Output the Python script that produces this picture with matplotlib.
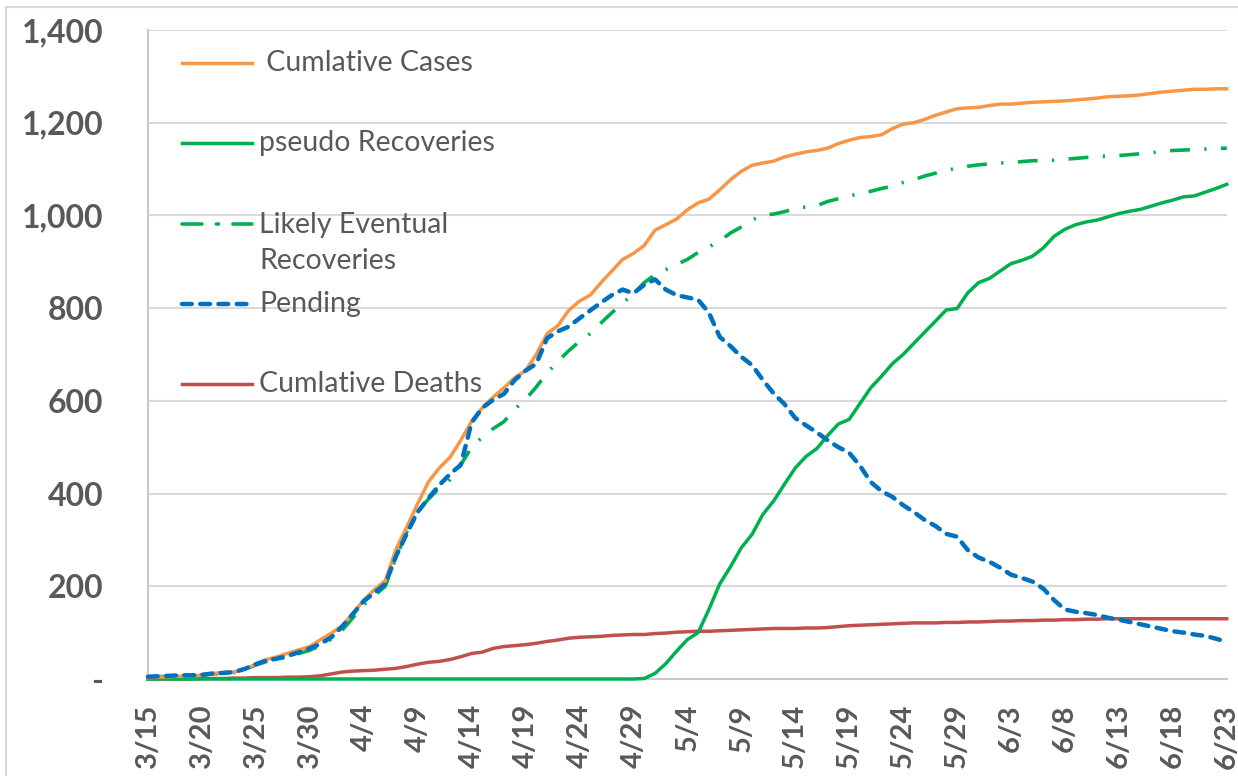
import numpy as np
import pandas as pd
import matplotlib
matplotlib.use("Agg")
import matplotlib.pyplot as plt
from matplotlib.patches import Rectangle

plt.rcParams['font.family'] = ['Lato', 'DejaVu Sans']

# daily dates 3/15 .. 6/23
dates = pd.date_range("2020-03-15", "2020-06-23", freq="D")
tick_labels = [f"{d.month}/{d.day}" for d in dates[::5]]

cases = [3, 4, 5, 6, 7, 8, 12, 14, 15, 22,
         32, 42, 48, 56, 63, 70, 85, 99, 115, 142,
         170, 193, 212, 280, 328, 378, 425, 455, 478, 515,
         556, 585, 608, 628, 650, 665, 700, 745, 762, 795,
         815, 828, 855, 880, 905, 918, 935, 968, 980, 992,
         1012, 1027, 1035, 1055, 1077, 1095, 1108, 1113, 1117, 1126,
         1132, 1137, 1140, 1145, 1155, 1162, 1168, 1170, 1174, 1187,
         1197, 1200, 1207, 1216, 1223, 1230, 1232, 1233, 1237, 1240,
         1240, 1242, 1244, 1245, 1246, 1247, 1249, 1251, 1253, 1256,
         1257, 1258, 1260, 1263, 1266, 1268, 1270, 1272, 1272, 1273,
         1273]

pseudo_rec = [0] * 46 + [
         1, 12, 33, 60,
         85, 100, 150, 205, 242, 283, 312, 355, 384, 420,
         455, 480, 497, 525, 550, 560, 594, 628, 653, 680,
         700, 724, 748, 772, 796, 799, 833, 855, 864, 880,
         896, 903, 912, 930, 955, 970, 980, 986, 990, 997,
         1004, 1009, 1013, 1020, 1027, 1033, 1040, 1042, 1050, 1058,
         1067]

likely_rec = [4, 5, 6, 7, 7, 8, 11, 12, 14, 21,
         30, 38, 42, 48, 55, 62, 72, 86, 105, 132,
         160, 180, 200, 262, 318, 362, 388, 412, 430, 462,
         500, 522, 540, 555, 582, 603, 630, 660, 685, 708,
         728, 745, 768, 790, 811, 830, 855, 872, 883, 894,
         905, 920, 932, 945, 962, 975, 990, 1000, 1003, 1008,
         1015, 1018, 1021, 1030, 1036, 1042, 1047, 1052, 1058, 1063,
         1071, 1077, 1085, 1091, 1097, 1102, 1106, 1109, 1111, 1113,
         1114, 1116, 1118, 1118, 1119, 1121, 1123, 1125, 1127, 1128,
         1129, 1131, 1133, 1135, 1138, 1140, 1141, 1142, 1143, 1144,
         1145]

pending = [5, 6, 7, 8, 8, 9, 12, 13, 15, 22,
         32, 40, 44, 50, 58, 66, 76, 90, 113, 140,
         168, 186, 205, 265, 314, 360, 390, 418, 442, 462,
         553, 585, 602, 615, 645, 665, 680, 735, 750, 760,
         778, 795, 812, 828, 840, 832, 850, 862, 840, 828,
         823, 818, 790, 738, 718, 695, 677, 645, 616, 593,
         563, 547, 532, 515, 500, 488, 460, 425, 405, 393,
         375, 360, 343, 330, 313, 307, 278, 262, 253, 240,
         225, 218, 210, 195, 170, 150, 145, 142, 138, 132,
         128, 123, 118, 113, 108, 103, 100, 96, 93, 87,
         80]

deaths = [0, 0, 0, 0, 0, 1, 1, 1, 2, 2,
         3, 3, 3, 4, 4, 5, 7, 11, 15, 17,
         18, 19, 21, 23, 27, 32, 36, 38, 42, 48,
         55, 58, 66, 70, 72, 74, 77, 81, 84, 88,
         90, 91, 92, 94, 95, 96, 96, 98, 99, 101,
         102, 103, 103, 104, 105, 106, 107, 108, 109, 109,
         109, 110, 110, 111, 113, 115, 116, 117, 118, 119,
         120, 121, 121, 121, 122, 122, 123, 123, 124, 125,
         125, 126, 126, 127, 127, 128, 128, 129, 129, 130,
         130, 130, 130, 130, 130, 130, 130, 130, 130, 130,
         130]

x = np.arange(len(dates))

fig = plt.figure(figsize=(12.38, 7.76), dpi=100)
ax = fig.add_axes([0.1195, 0.125, 0.8714, 0.8364])

c_orange = '#F79646'
c_green = '#00B050'
c_blue = '#0070C0'
c_red = '#C0504D'
dashdot = (0, (5.5, 4, 0.6, 4))
dashed = (0, (2.2, 1.9))

ax.plot(x, deaths, color=c_red, lw=2.5, clip_on=False, zorder=3)
ax.plot(x, pseudo_rec, color=c_green, lw=2.5, clip_on=False, zorder=4)
ax.plot(x, likely_rec, color=c_green, lw=2.6, ls=dashdot,
        clip_on=False, zorder=5)
ax.plot(x, cases, color=c_orange, lw=2.5, clip_on=False, zorder=6)
ax.plot(x, pending, color=c_blue, lw=3.2, ls=dashed,
        dash_capstyle='round', clip_on=False, zorder=7)

ax.set_xlim(0, 100)
ax.set_ylim(0, 1400)

yt = list(range(0, 1401, 200))
ylabels = ['-'] + [f"{v:,}" for v in yt[1:]]
ax.set_yticks(yt)
ax.set_yticklabels(ylabels, fontweight='bold')
ax.set_xticks(x[::5])
ax.set_xticklabels(tick_labels, rotation=90, fontweight='bold')
ax.tick_params(axis='y', length=0, pad=32, labelsize=23, labelcolor='#595959')
ax.tick_params(axis='x', length=0, pad=18, labelsize=21, labelcolor='#595959')

ax.yaxis.grid(True, color='#d9d9d9', lw=1.5)
ax.set_axisbelow(True)
for s in ['top', 'right']:
    ax.spines[s].set_visible(False)
for s in ['left', 'bottom']:
    ax.spines[s].set_color('#c8c8c8')
    ax.spines[s].set_linewidth(1.5)

# legend drawn by hand to match the Excel layout
legend_items = [
    (' Cumlative Cases', c_orange, '-', 2.5, 0.949, 0.949),
    ('pseudo Recoveries', c_green, '-', 2.5, 0.826, 0.826),
    ('Likely Eventual\nRecoveries', c_green, dashdot, 2.6, 0.701, 0.672),
    ('Pending', c_blue, dashed, 3.2, 0.578, 0.578),
    ('Cumlative Deaths', c_red, '-', 2.5, 0.4545, 0.4545),
]
for lab, col, ls, lw, yh, yt_ in legend_items:
    ax.plot([0.0315, 0.0964], [yh, yh], transform=ax.transAxes, color=col,
            lw=lw, ls=ls, dash_capstyle='round', clip_on=False, zorder=8)
    ax.text(0.103, yt_, lab, transform=ax.transAxes, fontsize=20.5,
            color='#595959', va='center', ha='left', linespacing=1.45, zorder=8)

fig.patches.append(Rectangle((6 / 1238, -0.05), 1.2, 1.05 - 7 / 776,
                             transform=fig.transFigure, fill=False,
                             edgecolor='#d9d9d9', lw=1.5))

fig.savefig('out.png', dpi=100)
